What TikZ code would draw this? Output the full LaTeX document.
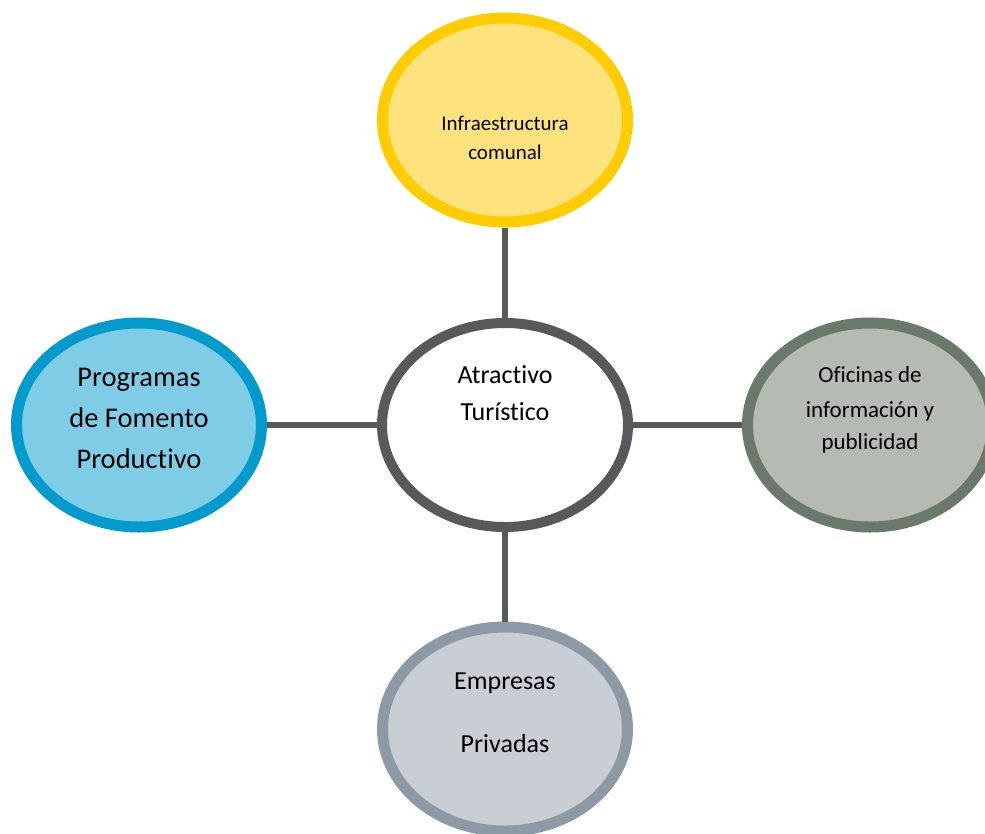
\documentclass[tikz,border=0pt]{standalone}
\usepackage{fontspec}
\setmainfont{Carlito}[Ligatures=NoCommon]
\usetikzlibrary{shapes.geometric}
\definecolor{ybord}{HTML}{FFCC00}
\definecolor{yfill}{HTML}{FDE27D}
\definecolor{dgray}{HTML}{58595B}
\definecolor{bbord}{HTML}{009ACD}
\definecolor{bfill}{HTML}{7ECCE5}
\definecolor{gbord}{HTML}{6B786C}
\definecolor{gfill}{HTML}{B5BAB3}
\definecolor{sbord}{HTML}{8D9AA5}
\definecolor{sfill}{HTML}{C9CED5}
\tikzset{
  bubble/.style={ellipse, draw, line width=11pt, inner sep=0pt, minimum width=245pt, minimum height=204pt},
  link/.style={draw=dgray, line width=6pt},
  lbl/.style={anchor=base, inner sep=0pt, text=black}
}
\begin{document}
\begin{tikzpicture}[x=1pt,y=-1pt]
\useasboundingbox (0,0) rectangle (985,833);
\node[bubble, draw=dgray, fill=white, line width=10pt, minimum width=246pt, minimum height=204pt] (c) at (505,425) {};
\node[bubble, draw=ybord, fill=yfill] (t) at (505,120) {};
\node[bubble, draw=bbord, fill=bfill] (l) at (139,425) {};
\node[bubble, draw=gbord, fill=gfill] (r) at (870,425) {};
\node[bubble, draw=sbord, fill=sfill] (b) at (505,729) {};
\draw[link] (t) -- (c);
\draw[link] (c) -- (b);
\draw[link] (l) -- (c);
\draw[link] (c) -- (r);
% labels
\begin{scope}[font=\fontsize{21}{25}\selectfont]
\node[lbl] (t1) at (505,130) {Infraestructura};
\node[lbl] (t2) at (505,159) {comunal};
\end{scope}
\begin{scope}[font=\fontsize{26}{31}\selectfont]
\node[lbl] (c1) at (505,383) {Atractivo};
\node[lbl] (c2) at (505,420) {Turístico};
\end{scope}
\begin{scope}[font=\fontsize{28.5}{34}\selectfont]
\node[lbl] (l1) at (139,386) {Programas};
\node[lbl] (l2) at (139,427) {de Fomento};
\node[lbl] (l3) at (139,468) {Productivo};
\end{scope}
\begin{scope}[font=\fontsize{23}{28}\selectfont]
\node[lbl] (r1) at (870,382) {Oficinas de};
\node[lbl] (r2) at (870,417) {información y};
\node[lbl] (r3) at (870,449) {publicidad};
\end{scope}
\begin{scope}[font=\fontsize{26}{31}\selectfont]
\node[lbl] (b1) at (505,689) {Empresas};
\node[lbl] (b2) at (505,752) {Privadas};
\end{scope}
\end{tikzpicture}
\end{document}
